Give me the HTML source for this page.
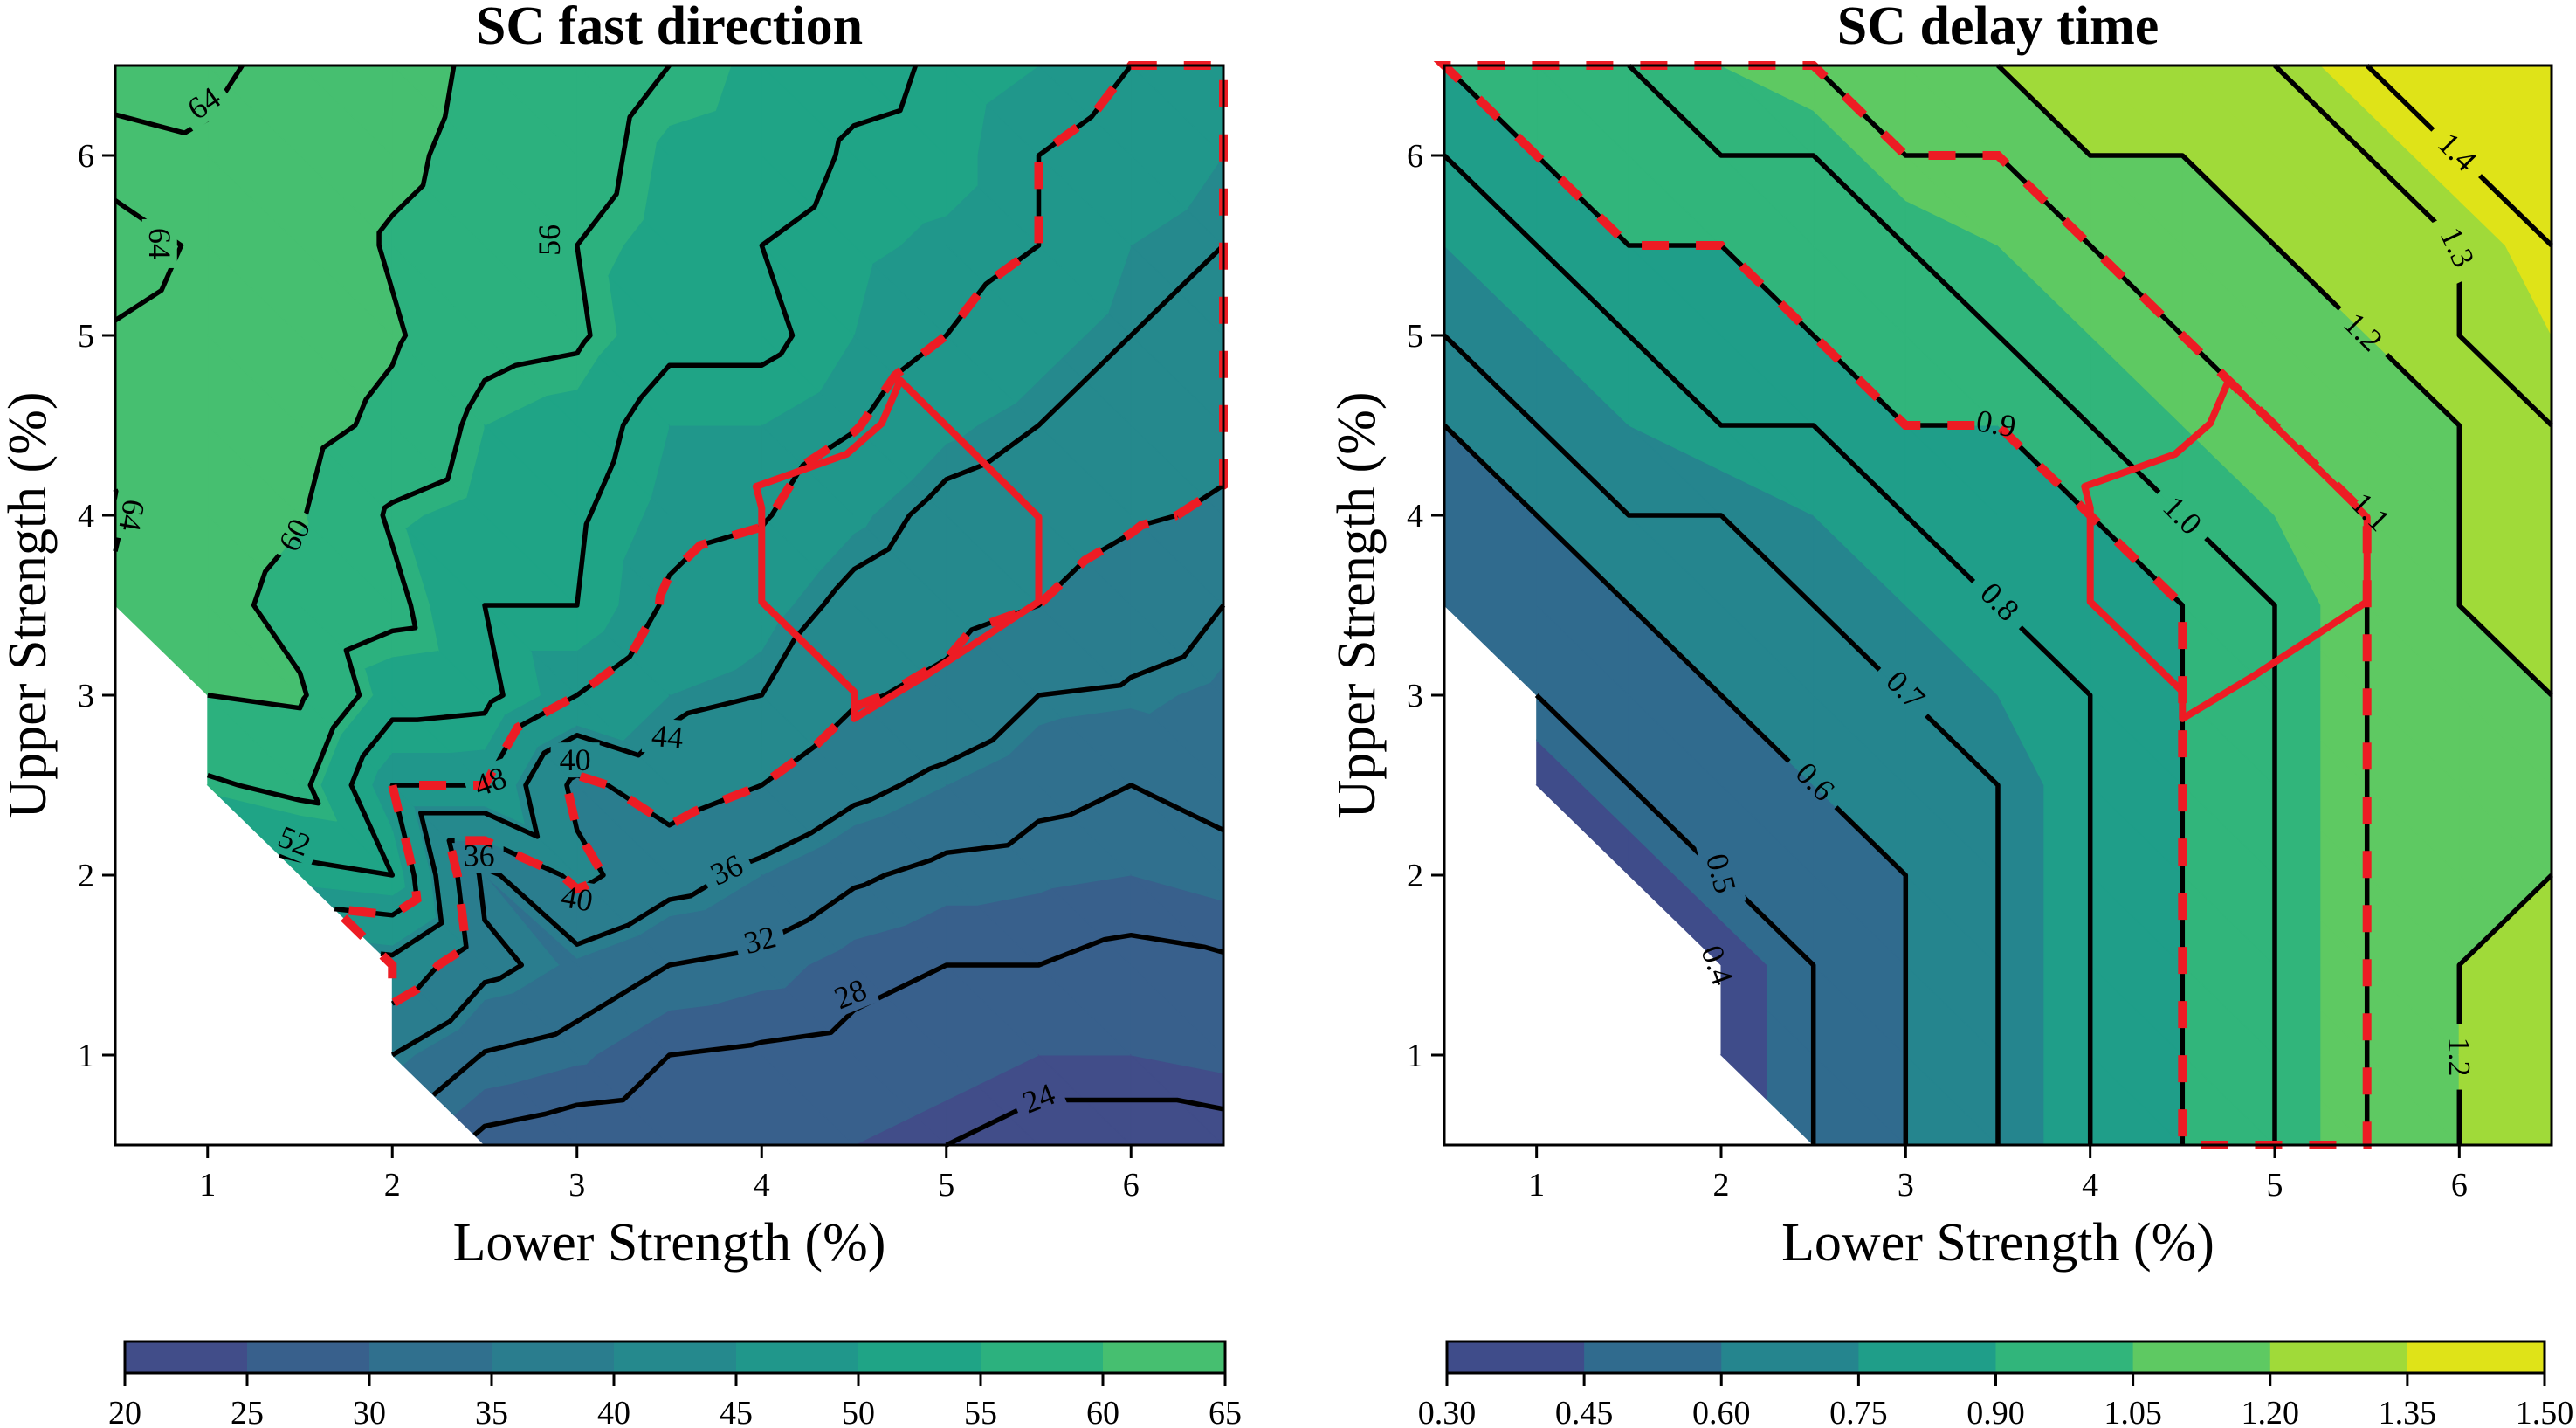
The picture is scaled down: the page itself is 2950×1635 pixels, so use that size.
<!DOCTYPE html>
<html><head><meta charset="utf-8"><style>
html,body{margin:0;padding:0;background:#fff;}
svg{display:block;font-family:"Liberation Serif",serif;}
text{font-family:"Liberation Serif",serif;}
</style></head><body>
<svg id="fig" width="2950" height="1635" viewBox="0 0 2950 1635" xmlns="http://www.w3.org/2000/svg" font-family="Liberation Serif, serif"></svg>
<script>
// ---------- data ----------
const xCoords = [0.5,1,1.5,2,2.5,3,3.5,4,4.5,5,5.5,6,6.5];
const yCoordsTopDown = [6.5,6,5.5,5,4.5,4,3.5,3,2.5,2,1.5,1,0.5];
// SC fast direction grid (rows from y=6.5 to y=0.5)
const fastRows = [
 [64.6,64.3,63.5,62,59,58,56,54.5,53,51.5,50,48,46],
 [63.5,63.8,63,61,58.5,57.5,54.5,54,51.5,51,48,46.5,45],
 [64.5,63.8,63,59.5,58,56,54,52,50.5,49.5,48,45,44],
 [63.9,63.5,62.5,60.5,57,56.5,53,53,50,48,46,44,43],
 [63.5,63,61.5,59,55,54,50,50,48.2,45.5,44,42,41],
 [64.2,62.5,60.3,55.5,54,52.5,49,48.3,45.5,43,42,40.5,39.5],
 [63.7,61.5,58.5,57,52,52,47.5,46,43,41.5,40,38,36],
 [null,60,60.5,53.5,53,48,45,44,40.5,39,36,35.5,34.5],
 [null,55.5,57,48,48,39,42,40,37,35,33,32,33],
 [null,null,51,52,35,41,37.5,35,32.5,31,30.5,30,31],
 [null,null,null,43,37,34.5,32,31,29,28,28,27,27.5],
 [null,null,null,36,31.8,30.5,28,27.5,27,26,25,25,25.5],
 [null,null,null,null,27,26,25.5,25.5,25,24,23,23,23]
];
// SC delay time grid
const delayRows = [
 [0.9,0.95,1.0,1.05,1.1,1.15,1.2,1.25,1.27,1.3,1.4,1.45,1.5],
 [0.8,0.9,0.95,1.0,1.0,1.1,1.1,1.2,1.2,1.25,1.3,1.4,1.45],
 [0.75,0.8,0.9,0.9,0.95,1.0,1.05,1.1,1.15,1.2,1.25,1.3,1.4],
 [0.7,0.75,0.8,0.85,0.9,0.95,1.0,1.05,1.1,1.15,1.2,1.3,1.35],
 [0.6,0.7,0.75,0.8,0.8,0.9,0.9,1.0,1.05,1.1,1.15,1.2,1.3],
 [0.55,0.6,0.7,0.7,0.75,0.8,0.85,0.9,1.0,1.05,1.1,1.2,1.25],
 [0.5,0.55,0.6,0.65,0.7,0.75,0.8,0.85,0.9,1.0,1.1,1.2,1.25],
 [null,0.5,0.55,0.6,0.65,0.7,0.75,0.8,0.9,1.0,1.1,1.15,1.2],
 [null,0.4,0.5,0.5,0.6,0.65,0.7,0.8,0.9,1.0,1.1,1.15,1.15],
 [null,null,0.4,0.5,0.55,0.6,0.7,0.8,0.9,1.0,1.1,1.15,1.2],
 [null,null,null,0.4,0.5,0.6,0.7,0.8,0.9,1.0,1.1,1.2,1.25],
 [null,null,null,0.4,0.5,0.6,0.7,0.8,0.9,1.0,1.1,1.2,1.25],
 [null,null,null,null,0.5,0.6,0.7,0.8,0.9,1.0,1.1,1.2,1.25]
];
const fastFillLevels = [20,25,30,35,40,45,50,55,60,65];
const fastFillColors = ['#414d89','#38608c','#30708e','#2a7d8e','#25898d','#20978b','#1fa486','#2cb17e','#46bf70'];
const fastLineLevels = [24,28,32,36,40,44,48,52,56,60,64];
const fastBand = [40,48];
const fastCbarTicks = ['20','25','30','35','40','45','50','55','60','65'];
const delayFillLevels = [0.30,0.45,0.60,0.75,0.90,1.05,1.20,1.35,1.50];
const delayFillColors = ['#3f4c8a','#306b8e','#25858e','#1f9e89','#31b57b','#5ec962','#a0da39','#dfe318'];
const delayLineLevels = [0.4,0.5,0.6,0.7,0.8,0.9,1.0,1.1,1.2,1.3,1.4];
const delayBand = [0.9,1.1];
const delayCbarTicks = ['0.30','0.45','0.60','0.75','0.90','1.05','1.20','1.35','1.50'];
const axisTicks = [1,2,3,4,5,6];
// overlap region polygon (data units)
const regionX = [4.75,4.65,4.46,3.97,4.0,4.0,4.5,4.5,4.89,5.5,5.5];
const regionY = [4.75,4.51,4.34,4.16,4.04,3.52,3.02,2.87,3.11,3.52,3.99];
// contour labels
const fastLabelText = ['64','64','64','60','56','52','48','40','36','40','44','36','32','28','24'];
const fastLabelX = [0.98,0.74,0.59,1.47,2.85,1.47,2.53,2.99,2.47,3.0,3.49,3.81,3.99,4.48,5.5];
const fastLabelY = [6.29,5.51,4.0,3.89,5.53,2.19,2.52,2.64,2.11,1.87,2.77,2.03,1.64,1.34,0.76];
const fastLabelAng = [-35,90,100,-62,-90,22,-20,0,0,10,5,-25,-15,-22,-22];
const delayLabelText = ['1.4','1.3','1.2','1.1','1.0','0.9','0.8','0.7','0.6','0.5','0.4','1.2'];
const delayLabelX = [5.99,5.99,5.48,5.52,4.5,3.49,3.51,3.0,2.51,2.0,1.98,6.0];
const delayLabelY = [6.02,5.49,5.02,4.02,4.0,4.51,3.52,3.03,2.52,2.01,1.5,0.99];
const delayLabelAng = [45,65,45,45,45,10,45,45,45,75,70,90];

// ---------- helpers ----------
const NS = 'http://www.w3.org/2000/svg';
const svg = document.getElementById('fig');
function mk(tag, parent){ const e=document.createElementNS(NS,tag); (parent||svg).appendChild(e); if(tag==='text') e.setAttribute('font-family','Liberation Serif, serif'); return e; }
function clipPoly(poly, fn){
  const out=[]; const n=poly.length;
  for(let i=0;i<n;i++){
    const a=poly[i], b=poly[(i+1)%n]; const sa=fn(a), sb=fn(b);
    if(sa>=0) out.push(a);
    if((sa>=0)!==(sb>=0)){ const t=sa/(sa-sb); out.push({x:a.x+t*(b.x-a.x),y:a.y+t*(b.y-a.y),z:a.z+t*(b.z-a.z)}); }
  }
  return out;
}
function chain(segs){
  const key=p=>Math.round(p[0]*4)+','+Math.round(p[1]*4);
  const map={}; segs.forEach((s,i)=>{[key(s[0]),key(s[1])].forEach(k=>{(map[k]=map[k]||[]).push(i);});});
  const used=new Array(segs.length).fill(false); const lines=[];
  function next(p){ const l=map[key(p)]||[]; for(const i of l){ if(!used[i]){ used[i]=true; const s=segs[i]; return key(s[0])===key(p)?s[1]:s[0]; } } return null; }
  for(let i=0;i<segs.length;i++){
    if(used[i]) continue; used[i]=true; const line=[segs[i][0],segs[i][1]];
    let p; while((p=next(line[line.length-1]))) line.push(p);
    while((p=next(line[0]))) line.unshift(p);
    lines.push(line);
  }
  return lines;
}
function pathOf(line){ return line.map((p,i)=>(i?'L':'M')+p[0].toFixed(1)+' '+p[1].toFixed(1)).join(''); }

function drawChart(c){
  const {x0,x1,y0,y1}=c;
  const sx=x=>x0+(x-0.5)/6*(x1-x0);
  const sy=y=>y1-(y-0.5)/6*(y1-y0);
  const V=(i,j)=>{ const z=c.rows[j][i]; return z===null?null:{x:sx(xCoords[i]),y:sy(yCoordsTopDown[j]),z:z,id:i+'_'+j}; };
  const tris=[];
  for(let j=0;j<12;j++) for(let i=0;i<12;i++){
    const TL=V(i,j),TR=V(i+1,j),BL=V(i,j+1),BR=V(i+1,j+1);
    if(BL&&BR&&TL) tris.push([BL,BR,TL]);
    if(BR&&TR&&TL) tris.push([BR,TR,TL]);
  }
  const g=mk('g'); 
  
  const fg=mk('g',g); 
  
  tris.forEach(t=>{
    for(let k=0;k<c.fill.length-1;k++){
      const lo=c.fill[k], hi=c.fill[k+1];
      let p=clipPoly(t,v=>v.z-lo); if(p.length<3) continue;
      p=clipPoly(p,v=>hi-v.z); if(p.length<3) continue;
      const e=mk('path',fg);
      e.setAttribute('d',p.map((v,i)=>(i?'L':'M')+v.x.toFixed(1)+' '+v.y.toFixed(1)).join('')+'Z');
      e.setAttribute('fill',c.colors[k]); e.setAttribute('stroke',c.colors[k]); e.setAttribute('stroke-width','1');
      
      
    }
  });
  function levelSegs(L){
    const segs=[];
    tris.forEach(t=>{
      const pts=[];
      for(let e=0;e<3;e++){ const a=t[e], b=t[(e+1)%3]; const sa=a.z-L, sb=b.z-L;
        if((sa>=0)!==(sb>=0)){ const u=sa/(sa-sb); pts.push([a.x+u*(b.x-a.x),a.y+u*(b.y-a.y)]); } }
      if(pts.length===2 && Math.hypot(pts[0][0]-pts[1][0],pts[0][1]-pts[1][1])>0.5) segs.push(pts);
    });
    return segs;
  }
  const defs=mk('defs',g); const mask=mk('mask',defs); mask.setAttribute('id',c.name+'-mask');
  mask.setAttribute('maskUnits','userSpaceOnUse');
  const mr=mk('rect',mask); mr.setAttribute('x',0); mr.setAttribute('y',0); mr.setAttribute('width',2950); mr.setAttribute('height',1635); mr.setAttribute('fill','#fff');
  c.labText.forEach((s,i)=>{
    const w=s.length*19+18, h=40;
    const r=mk('rect',mask); r.setAttribute('x',-w/2); r.setAttribute('y',-h/2); r.setAttribute('width',w); r.setAttribute('height',h); r.setAttribute('fill','#000');
    r.setAttribute('transform','translate('+sx(c.labX[i])+','+sy(c.labY[i])+') rotate('+c.labAng[i]+')');
  });
  const lg=mk('g',g); lg.setAttribute('mask','url(#'+c.name+'-mask)');
  
  
  c.lines.forEach(L=>{
    chain(levelSegs(L)).forEach(line=>{
      const e=mk('path',lg); e.setAttribute('d',pathOf(line));
      e.setAttribute('fill','none'); e.setAttribute('stroke','#000'); e.setAttribute('stroke-width','5.5');
      e.setAttribute('stroke-linejoin','round'); e.setAttribute('stroke-linecap','butt');
      
      
    });
  });
  let bsegs=levelSegs(c.band[0]).concat(levelSegs(c.band[1]));
  const edgeCount={}, edgeObj={};
  tris.forEach(t=>{ for(let e=0;e<3;e++){ const a=t[e], b=t[(e+1)%3]; const k=[a.id,b.id].sort().join('|'); edgeCount[k]=(edgeCount[k]||0)+1; edgeObj[k]=[a,b]; } });
  Object.keys(edgeCount).forEach(k=>{
    if(edgeCount[k]!==1) return; const [a,b]=edgeObj[k];
    const f=u=>a.z+u*(b.z-a.z); let tl=0, th=1;
    if(a.z!==b.z){ let u1=(c.band[0]-a.z)/(b.z-a.z), u2=(c.band[1]-a.z)/(b.z-a.z); if(u1>u2){const q=u1;u1=u2;u2=q;} tl=Math.max(0,u1); th=Math.min(1,u2); }
    else if(a.z<c.band[0]||a.z>c.band[1]) return;
    if(th-tl>1e-3 && f((tl+th)/2)>=c.band[0]-1e-9 && f((tl+th)/2)<=c.band[1]+1e-9)
      bsegs.push([[a.x+tl*(b.x-a.x),a.y+tl*(b.y-a.y)],[a.x+th*(b.x-a.x),a.y+th*(b.y-a.y)]]);
  });
  chain(bsegs).forEach(line=>{
    const e=mk('path',g); e.setAttribute('d',pathOf(line));
    e.setAttribute('fill','none'); e.setAttribute('stroke','#ed1c24'); e.setAttribute('stroke-width','10');
    e.setAttribute('stroke-dasharray','31 31');
    
    
  });
  const rp=mk('polygon',g);
  rp.setAttribute('points',regionX.map((x,i)=>sx(x).toFixed(1)+','+sy(regionY[i]).toFixed(1)).join(' '));
  rp.setAttribute('fill','none'); rp.setAttribute('stroke','#ed1c24'); rp.setAttribute('stroke-width','8'); rp.setAttribute('stroke-linejoin','round');
  
  
  c.labText.forEach((s,i)=>{
    const t=mk('text',g); t.textContent=s;
    t.setAttribute('transform','translate('+sx(c.labX[i])+','+sy(c.labY[i])+') rotate('+c.labAng[i]+')');
    t.setAttribute('text-anchor','middle'); t.setAttribute('dominant-baseline','central'); t.setAttribute('font-size','36');
    
    
  });
  const sp=mk('rect',g); sp.setAttribute('x',x0); sp.setAttribute('y',y0); sp.setAttribute('width',x1-x0); sp.setAttribute('height',y1-y0);
  sp.setAttribute('fill','none'); sp.setAttribute('stroke','#000'); sp.setAttribute('stroke-width','3');
  
  
  axisTicks.forEach(v=>{
    const tx=mk('line',g); tx.setAttribute('x1',sx(v)); tx.setAttribute('x2',sx(v)); tx.setAttribute('y1',y1); tx.setAttribute('y2',y1+15); tx.setAttribute('stroke','#000'); tx.setAttribute('stroke-width','3');
    
    
    const lx=mk('text',g); lx.textContent=v; lx.setAttribute('x',sx(v)); lx.setAttribute('y',y1+58); lx.setAttribute('text-anchor','middle'); lx.setAttribute('font-size','38');
    
    
    const ty=mk('line',g); ty.setAttribute('x1',x0-15); ty.setAttribute('x2',x0); ty.setAttribute('y1',sy(v)); ty.setAttribute('y2',sy(v)); ty.setAttribute('stroke','#000'); ty.setAttribute('stroke-width','3');
    
    
    const ly=mk('text',g); ly.textContent=v; ly.setAttribute('x',x0-24); ly.setAttribute('y',sy(v)+13); ly.setAttribute('text-anchor','end'); ly.setAttribute('font-size','38');
    
    
  });
  const ti=mk('text',g); ti.textContent=c.title; ti.setAttribute('x',(x0+x1)/2); ti.setAttribute('y',50); ti.setAttribute('text-anchor','middle'); ti.setAttribute('font-size','62'); ti.setAttribute('font-weight','bold');
  
  
  const xl=mk('text',g); xl.textContent='Lower Strength (%)'; xl.setAttribute('x',(x0+x1)/2); xl.setAttribute('y',1443); xl.setAttribute('text-anchor','middle'); xl.setAttribute('font-size','62');
  
  
  const yl=mk('text',g); yl.textContent='Upper Strength (%)'; yl.setAttribute('transform','translate('+(x0-100)+','+((y0+y1)/2)+') rotate(-90)'); yl.setAttribute('text-anchor','middle'); yl.setAttribute('dominant-baseline','central'); yl.setAttribute('font-size','62');
  
  
  const cb=mk('g',g); 
  
  const n=c.colors.length, cw=(c.cbx1-c.cbx0)/n;
  c.colors.forEach((col,k)=>{
    const r=mk('rect',cb); r.setAttribute('x',c.cbx0+k*cw); r.setAttribute('y',1536); r.setAttribute('width',cw+0.6); r.setAttribute('height',36); r.setAttribute('fill',col);
    
    
  });
  const cf=mk('rect',cb); cf.setAttribute('x',c.cbx0); cf.setAttribute('y',1536); cf.setAttribute('width',c.cbx1-c.cbx0); cf.setAttribute('height',36); cf.setAttribute('fill','none'); cf.setAttribute('stroke','#000'); cf.setAttribute('stroke-width','3');
  c.cbTicks.forEach((s,k)=>{
    const x=c.cbx0+k*cw;
    const l=mk('line',cb); l.setAttribute('x1',x); l.setAttribute('x2',x); l.setAttribute('y1',1572); l.setAttribute('y2',1587); l.setAttribute('stroke','#000'); l.setAttribute('stroke-width','3');
    
    
    const t=mk('text',cb); t.textContent=s; t.setAttribute('x',x); t.setAttribute('y',1630); t.setAttribute('text-anchor','middle'); t.setAttribute('font-size','38');
    
    
  });
}

drawChart({name:'fast-direction',title:'SC fast direction',x0:132,x1:1401,y0:75,y1:1311,rows:fastRows,
  fill:fastFillLevels,colors:fastFillColors,lines:fastLineLevels,band:fastBand,
  labText:fastLabelText,labX:fastLabelX,labY:fastLabelY,labAng:fastLabelAng,
  cbx0:143,cbx1:1403,cbTicks:fastCbarTicks});
drawChart({name:'delay-time',title:'SC delay time',x0:1654,x1:2922,y0:75,y1:1311,rows:delayRows,
  fill:delayFillLevels,colors:delayFillColors,lines:delayLineLevels,band:delayBand,
  labText:delayLabelText,labX:delayLabelX,labY:delayLabelY,labAng:delayLabelAng,
  cbx0:1657,cbx1:2914,cbTicks:delayCbarTicks});
</script>
</body></html>
